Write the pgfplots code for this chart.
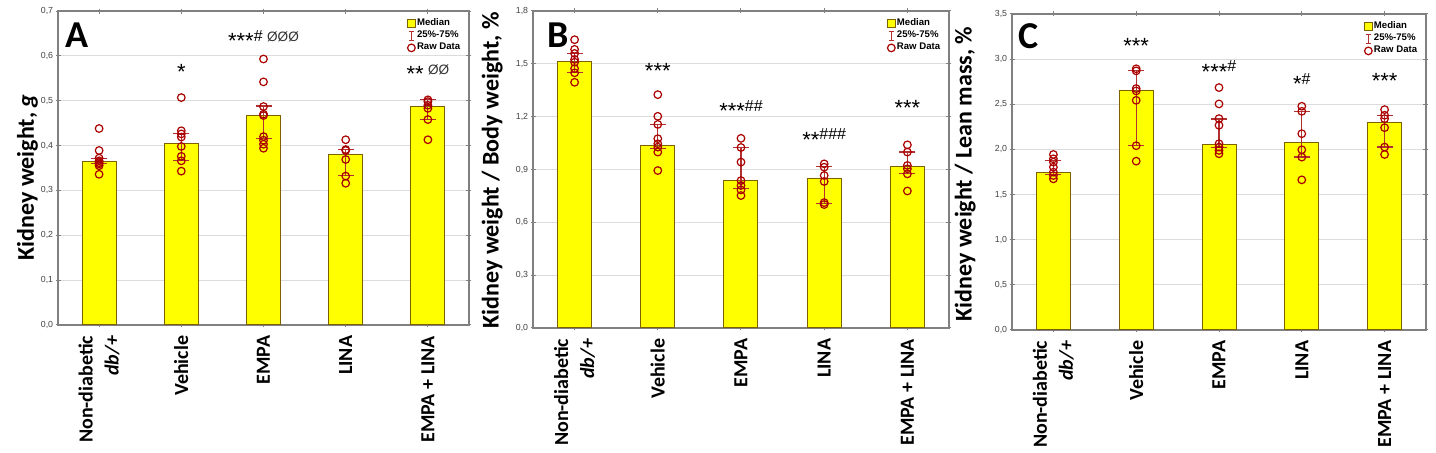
\documentclass[border=0pt]{standalone}
\usepackage{fontspec}
\setmainfont{Liberation Sans}
\newfontfamily\calib{Carlito}
\usepackage{pgfplots}
\pgfplotsset{compat=1.18}
\definecolor{baryellow}{RGB}{255,255,0}
\definecolor{baredge}{RGB}{127,96,0}
\definecolor{rawred}{RGB}{170,0,0}
\definecolor{iqrred}{RGB}{178,48,48}
\definecolor{gridgray}{RGB}{220,220,220}
\definecolor{axgray}{RGB}{128,128,128}
\definecolor{tickgray}{RGB}{64,64,64}
\tikzset{
  ann/.style={font=\fontsize{8}{9}\selectfont, anchor=center, inner sep=0pt},
  letter/.style={anchor=base west, inner sep=0pt, font=\calib\bfseries\fontsize{19}{19}\selectfont},
}
\pgfplotsset{
  panel/.style={
    scale only axis,
    xmin=-0.5, xmax=4.5, ymin=0,
    xtick={0,1,2,3,4},
    xticklabels={{Non-diabetic\\\textit{db/+}},Vehicle,EMPA,LINA,EMPA + LINA},
    xticklabel style={rotate=90, anchor=east, align=right, inner sep=0pt,
      font=\calib\bfseries\fontsize{10}{13}\selectfont, text=black},
    xticklabel shift=4pt,
    ymajorgrids, grid style={gridgray, line width=0.5pt},
    axis line style={axgray, line width=0.6pt},
    tick style={axgray, line width=0.5pt},
    major tick length=2.5pt,
    tick align=center,
    yticklabel style={font=\fontsize{4.4}{5}\selectfont, text=tickgray, inner sep=1pt,
      /pgf/number format/.cd, assume math mode=true, use comma, fixed, fixed zerofill, precision=1},
    ylabel style={font=\calib\bfseries\fontsize{12}{14}\selectfont, anchor=south, inner sep=0pt},
    legend style={at={(0.985,0.984)}, anchor=north east, draw=none, fill=white,
      font=\bfseries\fontsize{4.8}{5.5}\selectfont, inner sep=0.5pt, row sep=0pt,
      nodes={inner sep=0.6pt}},
    legend cell align=left,
  },
  bars/.style={ybar, bar width=17pt, fill=baryellow, draw=baredge, line width=0.5pt,
    legend image code/.code={\draw[fill=baryellow, draw=baredge, line width=0.4pt] (0.2pt,-2pt) rectangle (4.2pt,2.2pt);}},
  iqr/.style={iqrred, line width=0.6pt, mark=-, mark size=4pt, unbounded coords=jump,
    legend image code/.code={\draw[iqrred, line width=0.45pt] (2.2pt,-2.2pt)--(2.2pt,2.2pt) (1pt,-2.2pt)--(3.4pt,-2.2pt) (1pt,2.2pt)--(3.4pt,2.2pt);}},
  raw/.style={only marks, mark=o, mark size=1.9pt, rawred, line width=0.6pt,
    legend image code/.code={\draw[rawred, line width=0.6pt] (2.2pt,0pt) circle (1.9pt);}},
}
\newcommand\annstars[1]{{\fontsize{11}{11}\selectfont\raisebox{-0.33em}{#1}}}
\newcommand\annphi[1]{{\fontsize{6.8}{7}\selectfont\color{black!80}#1}}
\begin{document}
\begin{tikzpicture}
\path[use as bounding box] (0,0) rectangle (718pt,226.5pt);
% ---------------- A
\begin{axis}[panel, at={(29pt,64pt)}, anchor=south west, width=205.5pt, height=157pt,
  ymax=0.7, ytick={0,0.1,0.2,0.3,0.4,0.5,0.6,0.7},
  ylabel={Kidney weight, \textit{g}},
  ylabel style={at={(rel axis cs:-0.048,0.47)}}]
\addplot[bars] coordinates {(0,0.364) (1,0.405) (2,0.468) (3,0.380) (4,0.488)};
\addlegendentry{Median}
\addplot[iqr] coordinates {(0,0.360) (0,0.372) (0,nan) (1,0.366) (1,0.427) (1,nan)
  (2,0.416) (2,0.488) (2,nan) (3,0.333) (3,0.392) (3,nan) (4,0.458) (4,0.502)};
\addlegendentry{25\%-75\%}
\addplot[raw] coordinates {
  (0,0.438) (0,0.389) (0,0.372) (0,0.366) (0,0.362) (0,0.359) (0,0.355) (0,0.336)
  (1,0.507) (1,0.433) (1,0.426) (1,0.419) (1,0.398) (1,0.376) (1,0.366) (1,0.343)
  (2,0.593) (2,0.542) (2,0.487) (2,0.470) (2,0.467) (2,0.420) (2,0.412) (2,0.403) (2,0.394)
  (3,0.413) (3,0.391) (3,0.389) (3,0.369) (3,0.332) (3,0.316)
  (4,0.502) (4,0.498) (4,0.490) (4,0.483) (4,0.458) (4,0.413)};
\addlegendentry{Raw Data}
\node[letter] at (rel axis cs:0.017,0.883) {A};
\node[ann] at (axis cs:1,0.565) {\annstars{*}};
\node[ann] at (axis cs:2,0.637) {\annstars{***}\# \annphi{ØØØ}};
\node[ann] at (axis cs:4,0.561) {\annstars{**} \annphi{ØØ}};
\end{axis}
% ---------------- B
\begin{axis}[panel, at={(266.5pt,62.5pt)}, anchor=south west, width=208pt, height=158.5pt,
  ymax=1.8, ytick={0,0.3,0.6,0.9,1.2,1.5,1.8},
  ylabel={Kidney weight / Body weight, \%},
  ylabel style={at={(rel axis cs:-0.072,0.497)}}]
\addplot[bars] coordinates {(0,1.515) (1,1.039) (2,0.837) (3,0.851) (4,0.919)};
\addlegendentry{Median}
\addplot[iqr] coordinates {(0,1.451) (0,1.559) (0,nan) (1,1.018) (1,1.156) (1,nan)
  (2,0.790) (2,1.025) (2,nan) (3,0.708) (3,0.919) (3,nan) (4,0.875) (4,0.999)};
\addlegendentry{25\%-75\%}
\addplot[raw] coordinates {
  (0,1.637) (0,1.582) (0,1.559) (0,1.525) (0,1.509) (0,1.473) (0,1.449) (0,1.395)
  (1,1.325) (1,1.202) (1,1.156) (1,1.075) (1,1.046) (1,1.027) (1,0.999) (1,0.894)
  (2,1.077) (2,1.025) (2,0.942) (2,0.837) (2,0.809) (2,0.784) (2,0.752)
  (3,0.932) (3,0.913) (3,0.866) (3,0.832) (3,0.712) (3,0.701)
  (4,1.040) (4,0.999) (4,0.923) (4,0.904) (4,0.875) (4,0.778)};
\addlegendentry{Raw Data}
\node[letter] at (rel axis cs:0.033,0.884) {B};
\node[ann] at (axis cs:1,1.46) {\annstars{***}};
\node[ann] at (axis cs:2,1.24) {\annstars{***}\#\#};
\node[ann] at (axis cs:3,1.078) {\annstars{**}\#\#\#};
\node[ann] at (axis cs:4,1.25) {\annstars{***}};
\end{axis}
% ---------------- C
\begin{axis}[panel, at={(506pt,61.5pt)}, anchor=south west, width=207pt, height=158pt,
  ymax=3.5, ytick={0,0.5,1,1.5,2,2.5,3,3.5},
  ylabel={Kidney weight / Lean mass, \%},
  ylabel style={at={(rel axis cs:-0.087,0.494)}}]
\addplot[bars] coordinates {(0,1.744) (1,2.652) (2,2.059) (3,2.081) (4,2.293)};
\addlegendentry{Median}
\addplot[iqr] coordinates {(0,1.722) (0,1.878) (0,nan) (1,2.041) (1,2.870) (1,nan)
  (2,2.019) (2,2.337) (2,nan) (3,1.915) (3,2.422) (3,nan) (4,2.026) (4,2.378)};
\addlegendentry{25\%-75\%}
\addplot[raw] coordinates {
  (0,1.944) (0,1.896) (0,1.859) (0,1.804) (0,1.748) (0,1.711) (0,1.674)
  (1,2.893) (1,2.870) (1,2.674) (1,2.648) (1,2.544) (1,2.041) (1,1.870)
  (2,2.685) (2,2.504) (2,2.341) (2,2.267) (2,2.063) (2,2.026) (2,1.989) (2,1.952)
  (3,2.478) (3,2.422) (3,2.174) (3,1.996) (3,1.915) (3,1.663)
  (4,2.441) (4,2.378) (4,2.341) (4,2.241) (4,2.026) (4,1.944)};
\addlegendentry{Raw Data}
\node[letter] at (rel axis cs:0.014,0.891) {C};
\node[ann] at (axis cs:1,3.148) {\annstars{***}};
\node[ann] at (axis cs:2,2.878) {\annstars{***}\#};
\node[ann] at (axis cs:3,2.744) {\annstars{*}\#};
\node[ann] at (axis cs:4,2.756) {\annstars{***}};
\end{axis}
\end{tikzpicture}
\end{document}
